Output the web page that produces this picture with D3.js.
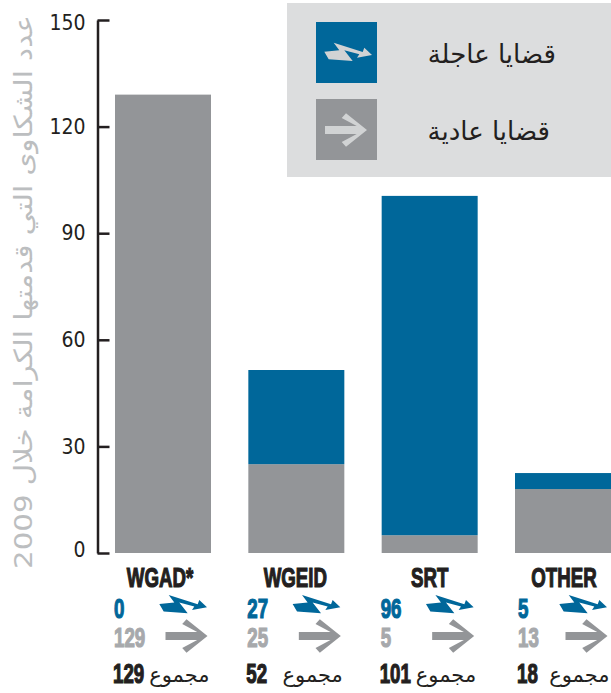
<!DOCTYPE html>
<html>
<head>
<meta charset="utf-8">
<script src="https://cdn.jsdelivr.net/npm/d3@7"></script>
<style>
  html, body { margin: 0; padding: 0; background: #fff; }
  svg { display: block; }
  .narrow { font-family: "Liberation Sans", sans-serif; font-weight: 700; }
  .arabic { font-family: "DejaVu Sans", sans-serif; direction: rtl; }
</style>
</head>
<body>
<div id="chart"></div>
<script>
const categories = ["WGAD*", "WGEID", "SRT", "OTHER"];
// bar heights as drawn (OTHER bar does not agree with its printed 5 / 13)
const routineBars = [129, 25, 5, 18];
const urgentBars = [0, 26.5, 95.5, 4.5];
// printed numbers under the bars
const urgentLabels = ["0", "27", "96", "5"];
const routineLabels = ["129", "25", "5", "13"];
const totalLabels = ["129", "52", "101", "18"];
const yTicks = [0, 30, 60, 90, 120, 150];

const yTitle = "عدد  الشكاوى  التي  قدمتها  الكرامة  خلال  2009";
const legendLabels = ["قضايا عاجلة", "قضايا عادية"];
const totalWord = "مجموع";

const width = 611, height = 693;
const blue = "#00679a", grey = "#939598", dark = "#231f20";

const svg = d3.select("#chart").append("svg")
  .attr("width", width)
  .attr("height", height);

const y = d3.scaleLinear().domain([0, 150]).range([553, 20]);
const x = d3.scaleBand().domain(categories).range([115, 611]).paddingInner(0.28);

svg.append("rect")
  .attr("x", 287).attr("y", 3)
  .attr("width", 324).attr("height", 174)
  .attr("fill", "#dcddde");

// Bars
const stacks = svg.selectAll(".bar")
  .data(categories)
  .enter()
  .append("g")
  .attr("class", "bar");

stacks.append("rect")
  .attr("x", d => x(d))
  .attr("width", x.bandwidth())
  .attr("y", (d, i) => y(routineBars[i]))
  .attr("height", (d, i) => y(0) - y(routineBars[i]))
  .attr("fill", grey);

stacks.append("rect")
  .attr("x", d => x(d))
  .attr("width", x.bandwidth())
  .attr("y", (d, i) => y(routineBars[i] + urgentBars[i]))
  .attr("height", (d, i) => y(0) - y(urgentBars[i]))
  .attr("fill", blue);

// Axis
const axis = svg.append("g").attr("transform", "translate(97.5,0)")
  .call(d3.axisLeft(y).tickValues(yTicks).tickSize(-12).tickSizeOuter(0).tickPadding(12));
axis.select(".domain").attr("stroke", dark).attr("stroke-width", 2.5);
axis.selectAll(".tick line").attr("stroke", dark).attr("stroke-width", 2.5);
axis.selectAll(".tick text")
  .attr("font-family", "'DejaVu Sans Condensed', 'DejaVu Sans', sans-serif")
  .attr("font-size", 21)
  .attr("fill", dark)
  .attr("dy", d => d === 0 ? "0.17em" : d === 150 ? "0.46em" : "0.32em");

// Axis title
svg.append("text")
  .attr("class", "arabic")
  .attr("transform", "translate(32,292) rotate(-90)")
  .attr("text-anchor", "middle")
  .attr("font-size", 25)
  .attr("fill", "#bcbec0")
  .attr("textLength", 554)
  .attr("lengthAdjust", "spacingAndGlyphs")
  .text(yTitle);

// Icon shapes, drawn around 0,0
const boltPath = "M-14.3,-9.3 L14.7,0 L16.3,-4.3 L24,3 L9,5.7 L11.3,2.3 L-3.7,-1.7 L4.7,9 L-19.3,7.3 L-23.7,-0.3 L-8.7,-1.7 Z";
const arrowPath = "M-21,-4 L10.7,-4 L-4.3,-12 L0,-16.7 L21,0 L0,16.7 L-4.3,12 L10.7,4 L-21,4 Z";

// Legend
const legendY = [22, 99];
const legendIcons = [boltPath, arrowPath];
const legendFill = [blue, grey];
const legendEnd = [556, 550];
legendLabels.forEach((label, i) => {
  svg.append("rect")
    .attr("x", 316).attr("y", legendY[i])
    .attr("width", 61).attr("height", 61)
    .attr("fill", legendFill[i]);
  svg.append("path")
    .attr("d", legendIcons[i])
    .attr("transform", `translate(${i ? 346 : 348},${legendY[i] + (i ? 31 : 30)})`)
    .attr("fill", "#d1d3d4");
  svg.append("text")
    .attr("class", "arabic")
    .attr("x", legendEnd[i])
    .attr("y", legendY[i] + 41)
    .attr("font-size", 26)
    .attr("fill", dark)
    .text(label);
});

// Labels under the bars
const numberNudge = [0, 0, 0, 4];
const titleNudge = [-3, -1, 0, 1];
const squeeze = 0.68;
const under = svg.selectAll(".under")
  .data(categories)
  .enter()
  .append("g")
  .attr("class", "under")
  .attr("transform", d => `translate(${x(d)},0)`);

// No condensed heavy face is installed, so the bold is squeezed sideways
function narrowText(sel, xPos, yPos, fill, text) {
  return sel.append("text")
    .attr("class", "narrow")
    .attr("transform", `translate(${xPos},${yPos}) scale(${squeeze},1)`)
    .attr("font-size", 27.5)
    .attr("fill", fill)
    .attr("stroke", fill)
    .attr("stroke-width", 1.2)
    .text(text);
}

under.each(function (d, i) {
  const g = d3.select(this);
  narrowText(g, x.bandwidth() / 2 + titleNudge[i], 587, dark, d)
    .attr("text-anchor", "middle");
  narrowText(g, numberNudge[i] - 1, 618, blue, urgentLabels[i]);
  narrowText(g, numberNudge[i] - 1, 647, "#a7a9ac", routineLabels[i]);
  narrowText(g, numberNudge[i] - 2, 683, dark, totalLabels[i]);
  g.append("path").attr("d", boltPath).attr("transform", "translate(68,604.3)").attr("fill", blue);
  g.append("path").attr("d", arrowPath).attr("transform", "translate(71.5,636)").attr("fill", grey);
  g.append("text")
    .attr("class", "arabic")
    .attr("x", 94.5)
    .attr("y", 682)
    .attr("font-size", 21)
    .attr("fill", dark)
    .text(totalWord);
});
</script>
</body>
</html>
